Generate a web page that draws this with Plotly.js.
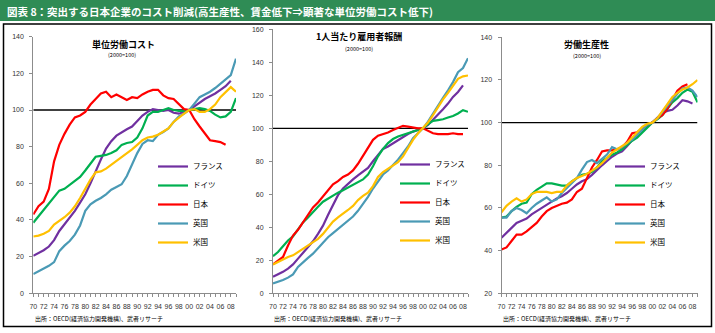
<!DOCTYPE html>
<html><head><meta charset="utf-8">
<script src="https://cdn.plot.ly/plotly-3.0.1.min.js"></script>
<style>html,body{margin:0;padding:0;background:#fff}#chart{width:715px;height:333px}</style>
</head><body><div id="chart"></div>
<script>
const years = [1970,1971,1972,1973,1974,1975,1976,1977,1978,1979,1980,1981,1982,1983,1984,1985,1986,1987,1988,1989,1990,1991,1992,1993,1994,1995,1996,1997,1998,1999,2000,2001,2002,2003,2004,2005,2006,2007,2008,2009];
const tickYears = [1970,1972,1974,1976,1978,1980,1982,1984,1986,1988,1990,1992,1994,1996,1998,2000,2002,2004,2006,2008];
const tickLabels = ['70','72','74','76','78','80','82','84','86','88','90','92','94','96','98','00','02','04','06','08'];
const countries = ['フランス','ドイツ','日本','英国','米国'];
const baseLine = [100,100,100,100,100,100,100,100,100,100,100,100,100,100,100,100,100,100,100,100,100,100,100,100,100,100,100,100,100,100,100,100,100,100,100,100,100,100,100,100];

// 単位労働コスト (2000=100)
const ulcFrance  = [20.5,22,23.5,25.5,29,34,37.5,41,45,49.5,54,60,67,73,79,83,86,88,89.5,91,94,97,99,100.5,100,99.5,100,98.5,98,99,100,102,104,106,107.5,109,111,113,116,null];
const ulcGermany = [38.5,42,45,49,52.5,56,57,59,61.5,63.5,67,71,74.5,75,75.5,76.5,78,81,82,82.5,85,90,97,99,99,100,101,100,99.5,99.5,100,100.5,101,100.5,99.5,97.5,96,96.5,99,106.5];
const ulcJapan   = [43,47.5,50,57,72,81,87,92,96,97,99,103,106,109,110,107,108.5,107,105.5,107,106.5,108.5,110,111,111,108,106.5,106,103,100.5,100,95,91,87,83.5,83,82.5,81,null,null];
const ulcUK      = [10.5,12,13.5,15,17,23,26,28.5,32,37,45,48.5,50.5,52,54,56.5,58,59.5,64,70,76.5,81.5,83.5,83,86.5,88,90,93.5,96.5,98,100,103.5,107,108.5,110,112,114.5,117,119,128];
const ulcUS      = [31,31.5,32.5,34,37.5,39.5,41.5,44,47.5,52,57,62,66,66.5,68,70,72,74,76.5,78.5,81,83.5,85,85.5,86.5,88.5,90,93.5,96,98,100,100.5,99,99,100.5,103,107,110,112.5,110];

// 1人当たり雇用者報酬 (2000=100)
const compFrance  = [10,11.5,13,15,17.5,21,24.5,27.5,31.5,36,41,47.5,54,59.5,63.5,66.5,69,71.5,73.5,76,80,84,87.5,89,91,93,95,96.5,98,99,100,102,105,108,111.5,115,119,122,126,null];
const compGermany = [22.5,25,28.5,32,34.5,39,43,46,49.5,52.5,55.5,57.5,59.5,61,62.5,64,65.5,67,69,72,77,83,87.5,91,93.5,95,96,97,98,99,100,102.5,104.5,105,105.5,106.5,107.5,109,111,110];
const compJapan   = [17.5,19.5,22,29,35,38.5,43,47.5,52,55,58.5,62.5,66,68,70.5,72,74.5,78.5,83.5,88,93,95.5,96.5,97.5,99,100.5,101.5,101,100.5,100,100,98.5,97,96.5,96.5,96.5,97,96.5,96.5,null];
const compUK      = [6,7,8,9.5,11.5,16,19,21.5,24,27.5,31,34,36.5,39,41.5,44,46.5,50,54,58.5,63.5,68,72,74.5,77.5,81,85,89,94,97,100,104,109,114,118.5,123,128,134,136.5,142.5];
const compUS      = [17.5,19,20.5,22,23,25,27,28.5,30.5,33,36,40,43.5,46,48,50.5,53,56.5,59,61,65,70.5,73.5,75.5,77.5,79.5,83,88,93,97,100,103.5,108,113,117.5,121.5,125.5,130,131.5,132];

// 労働生産性 (2000=100)
const prodFrance  = [46,48.5,50.5,53,54,55,57,58.5,60,61.5,63,64.5,65.5,67,69,71,72.5,73.5,75.5,78,80,82,84,85.5,86.5,89,92,94.5,97,99,100,102.5,104.5,105.5,106,108,110.5,110,109,null];
const prodGermany = [55.5,56,58.5,60.5,62,62.5,66.5,68.5,70,71.5,71.5,71,70.5,70.5,72.5,74,75.5,76,77,79,82,83.5,85,86,87.5,89.5,91.5,93,95.5,98,100,101.5,103.5,106.5,109.5,111.5,114,115.5,114.5,109.5];
const prodJapan   = [40.5,41.5,44.5,47.5,47.5,49,51,53,56,58.5,60,61,62,62.5,64,67.5,69,74,79,82.5,86.5,87,87,87.5,88.5,91,95,95.5,97,99,100,102,103.5,106.5,110.5,115,117,118,null,null];
const prodUK      = [55.5,55.5,58.5,60,59,57.5,60,62,63.5,65,63,64,67,69.5,71.5,74,78,81.5,82.5,81,83,85,88.5,87.5,88.5,90.5,92,94.5,97,99,100,102,105,108,111,113.5,116,116.5,115,112];
const prodUS      = [58,61,63,64.5,63,64,66.5,67.5,67.5,67.5,67,67.5,67.5,70.5,72.5,74,75,76,77.5,79,81,83.5,86,87.5,89,90.5,93,95.5,98,99.5,100,102,105.5,109,112,114,115.5,116.5,118,120];

const colors = ['#7030A0','#00B050','#FF0000','#4A9AB5','#FFC000'];
const W = 715, H = 333;
const px = v => v / W;
const py = v => 1 - v / H;
const CJK = 'Noto Sans CJK JP, sans-serif';
const NUM = 'Liberation Sans, Noto Sans CJK JP, sans-serif';

const panels = [
  {series:[ulcFrance,ulcGermany,ulcJapan,ulcUK,ulcUS], xa:'x', ya:'y', lg:'legend'},
  {series:[compFrance,compGermany,compJapan,compUK,compUS], xa:'x2', ya:'y2', lg:'legend2'},
  {series:[prodFrance,prodGermany,prodJapan,prodUK,prodUS], xa:'x3', ya:'y3', lg:'legend3'}
];

const traces = [];
panels.forEach(p => {
  traces.push({x: years, y: baseLine, xaxis: p.xa, yaxis: p.ya, type: 'scatter', mode: 'lines',
    line: {color: '#000', width: 1.3}, showlegend: false, hoverinfo: 'skip'});
  p.series.forEach((s, i) => {
    traces.push({x: years, y: s, name: countries[i], xaxis: p.xa, yaxis: p.ya, legend: p.lg,
      type: 'scatter', mode: 'lines', line: {color: colors[i], width: 2.2}, connectgaps: false});
  });
});

function xAxis(d0, d1, anchor) {
  return {domain: [px(d0), px(d1)], range: [1970, 2009], anchor: anchor,
    showgrid: false, zeroline: false, showline: true, linecolor: '#8c8c8c', linewidth: 1,
    tickmode: 'array', tickvals: tickYears, ticktext: tickLabels,
    ticks: 'outside', ticklen: 3, tickcolor: '#8c8c8c', ticklabelstandoff: 3,
    minor: {tickmode: 'linear', tick0: 1970, dtick: 1, ticks: 'outside', ticklen: 3, tickcolor: '#8c8c8c'},
    tickfont: {family: NUM, size: 7, color: '#333'}, fixedrange: true};
}
function yAxis(top, lo, hi, anchor) {
  return {domain: [py(293.3), py(top)], range: [lo, hi], anchor: anchor, dtick: 20, tick0: 0,
    showgrid: false, zeroline: false, showline: true, linecolor: '#8c8c8c', linewidth: 1,
    ticks: 'outside', ticklen: 3, tickcolor: '#8c8c8c', ticklabelstandoff: 4,
    tickfont: {family: NUM, size: 7, color: '#333'}, fixedrange: true};
}
function legendAt(x, y) {
  return {x: px(x), y: py(y), xanchor: 'left', yanchor: 'top', bgcolor: 'rgba(0,0,0,0)',
    borderwidth: 0, font: {family: CJK, size: 7.5, color: '#000'}, itemwidth: 30, tracegroupgap: 0};
}

const ann = (x, y, text, size, opts) => Object.assign({xref: 'paper', yref: 'paper', x: px(x), y: py(y),
  text: text, showarrow: false, xanchor: 'center', yanchor: 'middle',
  font: {family: CJK, size: size, color: '#000'}}, opts || {});

const layout = {
  width: W, height: H, margin: {l: 0, r: 0, t: 0, b: 0}, paper_bgcolor: '#fff', plot_bgcolor: 'rgba(0,0,0,0)',
  showlegend: true,
  xaxis: xAxis(33.3, 236, 'y'), yaxis: yAxis(36.7, 0, 140, 'x'),
  xaxis2: xAxis(273, 468, 'y2'), yaxis2: yAxis(29.3, 0, 160, 'x2'),
  xaxis3: xAxis(501.5, 697.5, 'y3'), yaxis3: yAxis(37.3, 20, 140, 'x3'),
  legend: legendAt(153, 152), legend2: legendAt(395, 150), legend3: legendAt(610, 152),
  shapes: [
    {type: 'rect', xref: 'paper', yref: 'paper', x0: 0, x1: 1, y0: py(21), y1: 1, fillcolor: '#2F8C55', line: {width: 0}, layer: 'below'},
    {type: 'rect', xref: 'paper', yref: 'paper', x0: px(3.5), x1: px(711.5), y0: py(326.5), y1: py(24), line: {color: '#000', width: 1.5}, layer: 'below'}
  ],
  annotations: [
    ann(5, 11, '図表 8：突出する日本企業のコスト削減(高生産性、賃金低下⇒顕著な単位労働コスト低下)', 10.5,
      {xanchor: 'left', font: {family: CJK, size: 10.5, color: '#fff', weight: 'bold'}}),
    ann(124, 45, '単位労働コスト', 9, {font: {family: CJK, size: 9, color: '#000', weight: 'bold'}}),
    ann(122, 54.5, '(2000=100)', 5.5),
    ann(359, 36.5, '1人当たり雇用者報酬', 9, {font: {family: CJK, size: 9, color: '#000', weight: 'bold'}}),
    ann(359, 48.5, '(2000=100)', 5.5),
    ann(586, 45, '労働生産性', 9, {font: {family: CJK, size: 9, color: '#000', weight: 'bold'}}),
    ann(587, 56, '(2000=100)', 5.5),
    ann(33, 318, '出所：OECD(経済協力開発機構)、武者リサーチ', 6, {xanchor: 'left'}),
    ann(272, 318, '出所：OECD(経済協力開発機構)、武者リサーチ', 6, {xanchor: 'left'}),
    ann(501, 318, '出所：OECD(経済協力開発機構)、武者リサーチ', 6, {xanchor: 'left'})
  ]
};

Plotly.newPlot('chart', traces, layout, {displayModeBar: false, staticPlot: true});
</script>
</body></html>
